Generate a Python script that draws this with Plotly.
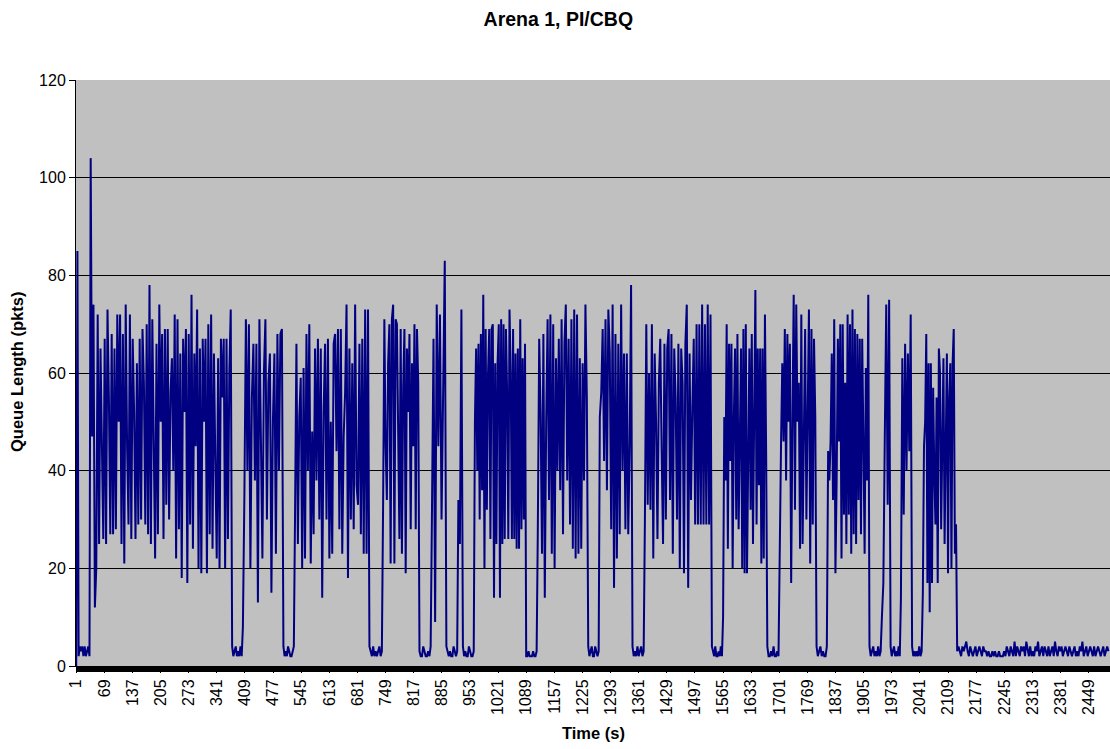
import plotly.graph_objects as go

# ---- data (queue length in packets) ----
# each run of values spans from its start time to the next start time
startup = [0, 85, 2, 4, 3, 4, 2, 4, 2, 3, 4, 2]
burst_a = [104, 47, 74, 12, 20, 72, 25, 65, 48, 26, 67, 25, 73, 55, 27, 68, 27, 65, 28, 72,
           50, 72, 25, 68, 21, 74, 45, 29, 72, 26, 67, 52, 26, 62, 29, 67, 30, 69, 58, 29,
           70, 27, 78, 25, 71, 44, 22, 66, 27, 74, 50, 68, 26, 69, 33, 69, 30, 56, 63, 40,
           72, 22, 71, 28, 64, 18, 67, 52, 69, 17, 68, 29, 76, 24, 64, 45, 73, 20, 65, 19,
           67, 50, 67, 19, 70, 27, 72, 24, 64, 42, 22, 63, 20, 67, 55, 67, 20, 67, 26, 60, 73]
idle_01 = [4, 2, 3, 4, 2, 3, 2, 4, 2]
burst_b = [8, 35, 71, 40, 70, 20, 55, 66, 38, 66, 13, 71, 45, 22, 60, 71, 30, 58, 64, 15,
           50, 64, 23, 68, 40, 68, 69]
idle_02 = [4, 2, 3, 2, 4, 3, 2, 2, 3, 4]
burst_c = [30, 66, 25, 51, 59, 20, 61, 22, 68, 40, 70, 21, 48, 27, 65, 38, 67, 30, 65, 14,
           52, 66, 30, 67, 22, 50, 23, 66, 68, 44, 69, 28, 69, 23, 47, 56, 74, 18, 65, 30,
           62, 28, 74, 37, 33, 66, 27, 67, 23, 73, 23, 73]
idle_03 = [4, 3, 2, 4, 2, 3, 2, 3, 4, 2, 3]
burst_d = [33, 71, 45, 34, 62, 70, 21, 71, 74, 21, 71, 70, 48, 26, 69, 23, 57, 69, 19, 65,
           52, 68, 28, 62, 45, 70, 28, 69, 58]
idle_04 = [3, 2, 2, 4, 3, 2, 2, 3, 2, 4]
burst_e = [30, 67, 9, 74, 45, 72, 30, 55, 83]
idle_05 = [4, 3, 2, 3, 2, 2, 4, 3, 2, 3]
burst_f = [34, 25, 73]
idle_06 = [4, 2, 3, 2, 2, 4, 3, 2, 2, 3]
burst_g = [50, 65, 40, 66, 30, 68, 36, 76, 20, 69, 32, 60, 69, 26, 69, 70, 14, 62, 25, 62,
           70, 14, 71, 25, 70, 26, 69, 56, 26, 73, 60, 26, 69, 26, 64, 24, 65, 24, 71, 28,
           63, 30, 66]
idle_07 = [2, 2, 3, 2, 2, 2, 3, 2, 2, 3]
burst_h = [27, 67, 52, 23, 68, 14, 50, 71, 34, 72, 23, 70, 20, 63, 40, 67, 36, 71, 27, 66,
           74, 38, 67, 29, 71, 24, 73, 22, 72, 23, 63, 24, 62, 38, 74, 55]
idle_08 = [4, 2, 3, 4, 2, 2, 4, 3, 2, 3]
burst_i = [51, 56, 69, 42, 71, 36, 73, 64, 28, 74, 16, 68, 22, 66, 27, 74, 40, 64, 28, 64,
           27, 45, 78]
idle_09 = [4, 2, 3, 2, 4, 2, 3, 4, 2, 3]
burst_j = [30, 70, 33, 60, 32, 70, 22, 64, 50, 26, 58, 67, 44, 25, 66, 30, 65, 69, 34, 68,
           23, 65, 55, 30, 66, 20, 65, 58, 19, 66, 74, 16, 64, 34, 53, 67, 29, 70, 29, 70,
           29, 74, 29, 70, 29, 74, 29, 72]
idle_10 = [4, 3, 2, 4, 2, 2, 3, 2, 4, 2]
burst_k = [10, 51, 38, 70, 24, 66, 42, 66, 20, 51, 65, 30, 68, 28, 51, 65, 20, 69, 19, 70,
           19, 51, 65, 32, 68, 25, 58, 77, 29, 65, 37, 65, 21, 65, 22, 72, 44]
idle_11 = [4, 2, 2, 3, 2, 4, 2, 2, 3, 2]
burst_l = [27, 45, 62, 46, 69, 38, 68, 50, 66, 17, 50, 76, 32, 74, 50, 58, 24, 72, 25, 52,
           69, 30, 58, 73, 21, 69, 29, 67, 51]
idle_12 = [4, 2, 3, 4, 2, 3, 2, 2, 4]
burst_m = [44, 38, 46, 64, 34, 71, 19, 38, 67, 46, 70, 22, 70, 31, 58, 25, 72, 31, 70, 23,
           73, 27, 69, 25, 68, 34, 67, 27, 67, 46, 23, 61, 38, 76]
idle_13 = [4, 2, 3, 4, 2, 3, 2, 4, 2, 3]
burst_n = [10, 17, 47, 74, 33, 75]
idle_14 = [4, 2, 3, 4, 2, 3, 2, 4, 2]
burst_o = [14, 63, 31, 66, 40, 64, 44, 72]
idle_15 = [4, 2, 3, 2, 3, 2, 4, 2, 3]
burst_p = [15, 45, 50, 68, 17, 62, 11, 62, 17, 57, 40, 29, 55, 17, 65, 60, 28, 45, 63, 25,
           46, 64, 19, 55, 62, 20, 62, 69, 23, 29]
idle_end = [3, 4, 3, 2, 4, 3, 4, 5, 3, 2, 4, 3, 2, 3, 4, 2, 3, 4, 3, 2,
            4, 3, 3, 2, 3, 2, 2, 3, 2, 3, 2, 2, 3, 2, 2, 2, 3, 2, 4, 3,
            2, 4, 3, 2, 5, 2, 4, 3, 2, 4, 3, 4, 2, 5, 3, 2, 4, 2, 3, 2,
            4, 3, 5, 2, 3, 4, 2, 4, 3, 2, 4, 2, 3, 4, 2, 5, 3, 2, 4, 3,
            4, 2, 3, 4, 3, 2, 4, 3, 2, 3, 4, 2, 3, 2, 4, 3, 5, 2, 3, 4,
            2, 3, 4, 3, 2, 4, 2, 3, 4, 3, 2, 3, 4, 2, 3, 4, 3]

runs = [startup, burst_a, idle_01, burst_b, idle_02, burst_c, idle_03, burst_d, idle_04,
        burst_e, idle_05, burst_f, idle_06, burst_g, idle_07, burst_h, idle_08, burst_i,
        idle_09, burst_j, idle_10, burst_k, idle_11, burst_l, idle_12, burst_m, idle_13,
        burst_n, idle_14, burst_o, idle_15, burst_p, idle_end]
run_start_s = [1, 36, 378, 404, 502, 530, 710, 743, 831, 861, 896, 925, 936, 965, 1089,
               1117, 1239, 1267, 1346, 1376, 1538, 1565, 1672, 1702, 1791, 1819, 1919,
               1949, 1970, 1995, 2022, 2048, 2131]
end_time_s = 2500

tick_labels = ["1", "69", "137", "205", "273", "341", "409", "477", "545", "613", "681",
               "749", "817", "885", "953", "1021", "1089", "1157", "1225", "1293", "1361",
               "1429", "1497", "1565", "1633", "1701", "1769", "1837", "1905", "1973",
               "2041", "2109", "2177", "2245", "2313", "2381", "2449"]
y_ticks = [0, 20, 40, 60, 80, 100, 120]

# ---- assemble series ----
time_s, queue = [], []
bounds = run_start_s + [end_time_s]
for k, vals in enumerate(runs):
    t0, t1 = bounds[k], bounds[k + 1]
    n = len(vals)
    for j, v in enumerate(vals):
        time_s.append(t0 + (t1 - t0) * j / n)
        queue.append(v)

FONT = "Liberation Sans, Arial, sans-serif"

fig = go.Figure()
fig.add_trace(go.Scatter(x=time_s, y=queue, mode="lines",
                         line=dict(color="#000080", width=2),
                         hoverinfo="skip", showlegend=False))

fig.update_layout(
    width=1110, height=749,
    margin=dict(l=76, r=0, t=80, b=83),
    paper_bgcolor="white", plot_bgcolor="#C0C0C0",
    font=dict(family=FONT, size=16, color="black"),
    title=dict(text="<b>Arena 1, PI/CBQ</b>", x=0.503, xanchor="center",
               y=1 - 19 / 749, yanchor="middle", yref="container",
               font=dict(family=FONT, size=19.5, color="black")),
    showlegend=False,
)
fig.update_xaxes(
    range=[0.5, 2500.5], tickmode="array",
    tickvals=[int(s) for s in tick_labels], ticktext=tick_labels,
    tickangle=-90, ticks="outside", ticklen=6, tickcolor="black",
    showgrid=False, zeroline=False, showline=True, linecolor="black", linewidth=1,
    tickfont=dict(family=FONT, size=16, color="black"),
)
fig.update_yaxes(
    range=[0, 120], tickmode="array", tickvals=y_ticks,
    ticks="outside", ticklen=6, tickcolor="black",
    showgrid=True, gridcolor="black", gridwidth=1,
    zeroline=False, showline=True, linecolor="black", linewidth=1,
    tickfont=dict(family=FONT, size=16, color="black"),
)
# dense category tick band under the plot area
fig.add_shape(type="rect", xref="paper", yref="paper", x0=0, x1=1,
              y0=-6 / 586, y1=0, fillcolor="black", line=dict(width=0))
fig.add_annotation(text="<b>Queue Length (pkts)</b>", xref="paper", yref="paper",
                   x=(17 - 76) / 1034, y=(666 - 372) / 586, textangle=-90,
                   showarrow=False, xanchor="center", yanchor="middle",
                   font=dict(family=FONT, size=16.5, color="black"))
fig.add_annotation(text="<b>Time (s)</b>", xref="paper", yref="paper",
                   x=(593 - 76) / 1034, y=(666 - 733) / 586,
                   showarrow=False, xanchor="center", yanchor="middle",
                   font=dict(family=FONT, size=16.5, color="black"))

fig.write_html("out.html")
